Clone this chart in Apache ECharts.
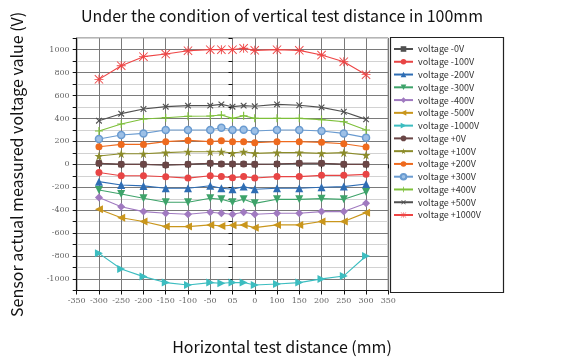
<!DOCTYPE html>
<html lang="en">
<head>
    <meta charset="UTF-8">
    <title>Vertical test distance 100mm</title>
    <script src="https://cdn.jsdelivr.net/npm/echarts@6/dist/echarts.min.js"></script>
</head>
<body style="margin:0">
    <div id="main" style="width: 564px;height:358px;"></div>
    <script type="text/javascript">
        // x positions on the axis (axis units), and the tick labels as printed in the original
        var xPositions = [-300, -250, -200, -150, -100, -50, -25, 0, 25, 50, 100, 150, 200, 250, 300];
        var xTickLabels = ['-350', '-300', '-250', '-200', '-150', '-100', '-50', '05', '0', '100', '150', '200', '250', '300', '350'];

        var vNeg0    = [9, 0, 0, -6, 0, 9, 3, 3, 3, 0, 3, 9, 9, 0, 0];
        var vNeg100  = [-71, -100, -100, -108, -120, -100, -107, -116, -107, -119, -107, -107, -96, -96, -87];
        var vNeg200  = [-151, -180, -188, -209, -209, -187, -209, -217, -194, -217, -209, -209, -200, -194, -171];
        var vNeg300  = [-223, -258, -296, -331, -331, -296, -305, -331, -305, -340, -305, -305, -299, -305, -241];
        var vNeg400  = [-290, -369, -412, -427, -435, -418, -427, -435, -418, -435, -427, -427, -412, -412, -340];
        var vNeg500  = [-392, -465, -499, -543, -543, -528, -537, -531, -528, -552, -528, -528, -499, -499, -421];
        var vNeg1000 = [-776, -912, -979, -1031, -1052, -1031, -1037, -1030, -1031, -1052, -1043, -1031, -999, -973, -799];
        var vPos0    = [9, 0, 0, -6, 0, 9, 3, 3, 3, 0, 3, 9, 9, 0, 0];
        var vPos100  = [73, 93, 93, 102, 110, 110, 110, 99, 110, 96, 102, 102, 96, 102, 81];
        var vPos200  = [154, 174, 174, 198, 209, 198, 206, 198, 198, 189, 198, 198, 192, 180, 151];
        var vPos300  = [221, 256, 270, 299, 299, 299, 320, 299, 302, 291, 299, 299, 291, 270, 233];
        var vPos400  = [291, 352, 395, 407, 419, 422, 430, 401, 424, 401, 401, 401, 390, 372, 299];
        var vPos500  = [381, 442, 483, 503, 512, 512, 523, 503, 512, 506, 523, 515, 497, 459, 392];
        var vPos1000 = [741, 860, 939, 962, 991, 1000, 1000, 1000, 1012, 994, 1000, 994, 953, 895, 782];

        // marker shapes
        var starPath = 'path://M50,0 L61,35 L98,35 L68,57 L79,91 L50,70 L21,91 L32,57 L2,35 L39,35 Z';
        var plusPath = 'path://M4.3,0 H5.7 V4.3 H10 V5.7 H5.7 V10 H4.3 V5.7 H0 V4.3 H4.3 Z';
        var asteriskPath = 'path://M4.5,0 H5.5 V10 H4.5 Z M0,4.5 H10 V5.5 H0 Z M0.7,0 L10,9.3 L9.3,10 L0,0.7 Z M9.3,0 L10,0.7 L0.7,10 L0,9.3 Z';

        var defs = [
            {name: 'voltage -0V',    data: vNeg0,    color: '#505050', symbol: 'rect', size: 6},
            {name: 'voltage -100V',  data: vNeg100,  color: '#e84545', symbol: 'circle', size: 7},
            {name: 'voltage -200V',  data: vNeg200,  color: '#2e6db4', symbol: 'triangle', size: 8},
            {name: 'voltage -300V',  data: vNeg300,  color: '#3ea36a', symbol: 'triangle', size: 8, rotate: 180},
            {name: 'voltage -400V',  data: vNeg400,  color: '#a07ac0', symbol: 'diamond', size: 8},
            {name: 'voltage -500V',  data: vNeg500,  color: '#c9961c', symbol: 'triangle', size: 8, rotate: 90},
            {name: 'voltage -1000V', data: vNeg1000, color: '#3cbdc0', symbol: 'triangle', size: 8, rotate: -90},
            {name: 'voltage +0V',    data: vPos0,    color: '#6a4646', symbol: 'circle', size: 7},
            {name: 'voltage +100V',  data: vPos100,  color: '#8c8c2a', symbol: starPath, size: 9},
            {name: 'voltage +200V',  data: vPos200,  color: '#ee6a1e', symbol: 'circle', size: 7},
            {name: 'voltage +300V',  data: vPos300,  color: '#6a9bd0', symbol: 'circle', size: 7, fill: '#9dc0e6'},
            {name: 'voltage +400V',  data: vPos400,  color: '#7ec03a', symbol: plusPath, size: 8},
            {name: 'voltage +500V',  data: vPos500,  color: '#505050', symbol: plusPath, size: 8, rotate: 45},
            {name: 'voltage +1000V', data: vPos1000, color: '#ee4444', symbol: asteriskPath, size: 9}
        ];

        var series = defs.map(function (d) {
            return {
                name: d.name,
                type: 'line',
                data: xPositions.map(function (x, i) { return [x, d.data[i]]; }),
                symbol: d.symbol,
                symbolSize: d.size,
                symbolRotate: d.rotate || 0,
                showAllSymbol: true,
                lineStyle: {color: d.color, width: 1.1},
                itemStyle: d.fill ? {color: d.fill, borderColor: d.color, borderWidth: 1.5} : {color: d.color},
                emphasis: {disabled: true},
                animation: false
            };
        });

        var myChart = echarts.init(document.getElementById('main'));

        var tickFont = {fontFamily: 'DejaVu Serif', fontSize: 8, color: '#666'};

        var option = {
            backgroundColor: '#fff',
            title: {
                text: 'Under the condition of vertical test distance in 100mm',
                left: 'center',
                top: 3,
                textStyle: {fontFamily: 'Noto Sans CJK SC', fontSize: 16, fontWeight: 'normal', color: '#111'}
            },
            grid: {
                left: 76.7, right: 175.7, top: 38.2, bottom: 67.5,
                outerBoundsMode: 'none',
                show: true, borderColor: '#111', borderWidth: 1
            },
            legend: {
                orient: 'vertical',
                left: 393, top: 44,
                padding: 0,
                itemWidth: 19, itemHeight: 7, itemGap: 2.77,
                textStyle: {fontFamily: 'Noto Sans CJK SC', fontSize: 9, lineHeight: 10, color: '#333'},
                data: defs.map(function (d) { return d.name; })
            },
            xAxis: [{
                type: 'value',
                min: -350, max: 350, interval: 50,
                axisLine: {onZero: false, lineStyle: {color: '#111', width: 1.2}},
                axisTick: {length: 4, lineStyle: {color: '#111'}},
                axisLabel: Object.assign({margin: 6, formatter: function (v) { return xTickLabels[Math.round((v + 350) / 50)]; }}, tickFont),
                splitLine: {lineStyle: {color: '#7a7a7a', width: 1}}
            }, {
                type: 'value', position: 'top',
                min: -350, max: 350, interval: 50,
                axisLine: {show: false},
                axisTick: {inside: true, length: 4, lineStyle: {color: '#111'}},
                axisLabel: {show: false},
                splitLine: {show: false}
            }],
            yAxis: [{
                type: 'value',
                min: -1100, max: 1100, interval: 100,
                name: 'Sensor actual measured voltage value (V)',
                nameLocation: 'middle',
                nameGap: 52,
                nameTextStyle: {fontFamily: 'Noto Sans CJK SC', fontSize: 16, color: '#111'},
                axisLine: {onZero: false, lineStyle: {color: '#111', width: 1.2}},
                axisTick: {length: 4, lineStyle: {color: '#111'}},
                axisLabel: Object.assign({margin: 7, formatter: function (v) { return v % 200 === 0 ? String(v) : ''; }}, tickFont),
                splitLine: {lineStyle: {color: ['#d2d2d2', '#7a7a7a'], width: 1}}
            }, {
                type: 'value', position: 'right',
                min: -1100, max: 1100, interval: 100,
                axisLine: {show: false},
                axisTick: {inside: true, length: 4, lineStyle: {color: '#111'}},
                axisLabel: {show: false},
                splitLine: {show: false}
            }],
            graphic: [{
                type: 'rect',
                shape: {x: 390.5, y: 37.5, width: 113, height: 255},
                style: {fill: 'none', stroke: '#222', lineWidth: 1.2},
                z: 1
            }, {
                type: 'text',
                x: 282, y: 347,
                style: {
                    text: 'Horizontal test distance (mm)',
                    font: '16px "Noto Sans CJK SC"',
                    fill: '#111',
                    align: 'center',
                    verticalAlign: 'middle'
                }
            }],
            series: series
        };

        myChart.setOption(option);
    </script>
</body>
</html>
